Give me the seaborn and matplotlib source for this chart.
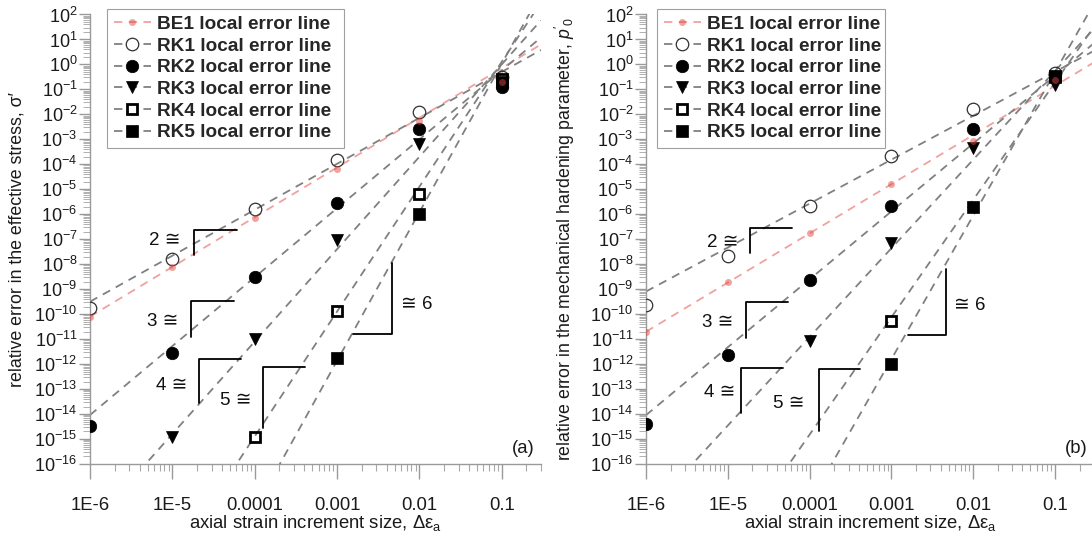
import numpy as np
import matplotlib
matplotlib.use("Agg")
import matplotlib.pyplot as plt
from matplotlib.lines import Line2D
from matplotlib.ticker import FixedLocator, FixedFormatter, LogLocator, NullFormatter
import seaborn as sns

sns.set_style("white")
plt.rcParams["font.family"] = ["Liberation Sans", "DejaVu Sans"]
plt.rcParams["mathtext.fontset"] = "custom"
plt.rcParams["mathtext.rm"] = "Liberation Sans"
plt.rcParams["mathtext.it"] = "Liberation Sans:italic"
plt.rcParams["mathtext.bf"] = "Liberation Sans:bold"
plt.rcParams["mathtext.default"] = "regular"
plt.rcParams["lines.scale_dashes"] = False

# ---------------------------------------------------------------- data
step_sizes = [1e-6, 1e-5, 1e-4, 1e-3, 1e-2, 1e-1]
step_labels = ["1E-6", "1E-5", "0.0001", "0.001", "0.01", "0.1"]
methods = ["BE1", "RK1", "RK2", "RK3", "RK4", "RK5"]
nan = np.nan

# relative error in the effective stress
stress_be1 = [7.6e-11, 7.4e-9, 7.0e-7, 6.7e-5, 5.5e-3, 0.20]
stress_rk1 = [1.7e-10, 1.6e-8, 1.6e-6, 1.5e-4, 1.2e-2, 0.31]
stress_rk2 = [3.3e-15, 2.9e-12, 3.0e-9, 2.8e-6, 2.7e-3, 0.12]
stress_rk3 = [nan, 1.25e-15, 1.0e-11, 9.0e-8, 6.5e-4, 0.18]
stress_rk4 = [nan, nan, 1.15e-15, 1.4e-10, 6.6e-6, 0.25]
stress_rk5 = [nan, nan, nan, 1.7e-12, 1.0e-6, 0.20]
# local error lines: slope and value at a step size of 0.1
stress_line_slope = [1.99, 1.84, 2.76, 3.70, 5.00, 5.95]
stress_line_at_01 = [0.71, 0.50, 0.575, 1.0, 1.26, 1.07]

# relative error in the mechanical hardening parameter
hard_be1 = [2.0e-11, 1.9e-9, 1.8e-7, 1.7e-5, 8.5e-4, 0.24]
hard_rk1 = [2.3e-10, 2.2e-8, 2.2e-6, 2.2e-4, 1.7e-2, 0.45]
hard_rk2 = [3.9e-15, 2.3e-12, 2.4e-9, 2.2e-6, 2.6e-3, 0.30]
hard_rk3 = [nan, nan, 8.5e-12, 7.0e-8, 4.6e-4, 0.15]
hard_rk4 = [nan, nan, nan, 5.4e-11, nan, 0.35]
hard_rk5 = [nan, nan, nan, 1.0e-12, 1.9e-6, 0.30]
hard_line_slope = [1.97, 1.76, 2.72, 3.55, 4.70, 5.75]
hard_line_at_01 = [0.14, 0.51, 0.36, 0.55, 0.19, 0.50]

order_labels = ["2 \u2245", "3 \u2245", "4 \u2245", "5 \u2245", "\u2245 6"]

# ---------------------------------------------------------------- styles
GRAY = "#808080"
PINK = "#e0463f"
styles = {
    "BE1": dict(marker="o", ms=5.0, mfc=PINK, mec="none", mew=0, line=PINK, alpha=0.5),
    "RK1": dict(marker="o", ms=9.0, mfc="none", mec="#303030", mew=0.9, line=GRAY, alpha=1),
    "RK2": dict(marker="o", ms=9.0, mfc="black", mec="black", mew=0.5, line=GRAY, alpha=1),
    "RK3": dict(marker="v", ms=8.5, mfc="black", mec="black", mew=0.5, line=GRAY, alpha=1),
    "RK4": dict(marker="s", ms=7.6, mfc="none", mec="black", mew=2.0, line=GRAY, alpha=1),
    "RK5": dict(marker="s", ms=8.4, mfc="black", mec="black", mew=0.5, line=GRAY, alpha=1),
}
DASH = (0, (6.0, 4.6))

# slope brackets in log10 coordinates:
# (x of vertical leg, x of other end, y low, y high, text x, text y, text align, corner)
stress_brackets = [
    (-4.74, -4.22, -7.62, -6.62, -4.90, -7.07, "right", "top"),
    (-4.77, -4.25, -10.93, -9.48, -4.93, -10.31, "right", "top"),
    (-4.67, -4.17, -13.55, -11.79, -4.82, -12.84, "right", "top"),
    (-3.90, -3.39, -14.55, -12.13, -4.04, -13.46, "right", "top"),
    (-2.33, -2.80, -10.79, -7.95, -2.22, -9.62, "left", "bottom"),
]
hard_brackets = [
    (-4.73, -4.22, -7.55, -6.53, -4.87, -7.13, "right", "top"),
    (-4.78, -4.27, -10.97, -9.51, -4.93, -10.32, "right", "top"),
    (-4.84, -4.33, -13.94, -12.16, -4.91, -13.14, "right", "top"),
    (-3.89, -3.38, -14.68, -12.20, -4.06, -13.56, "right", "top"),
    (-2.33, -2.80, -10.83, -8.18, -2.23, -9.65, "left", "bottom"),
]

XLIM = (1e-6, 0.3)
YLIM = (1e-16, 1e2)
XTICK_FS = 13.3
YTICK_FS = 13
LABEL_FS = 12.8
INK = "#1a1a1a"


def draw_panel(ax, series, slopes, at01, brackets, ylabel, tag, legend_box):
    ax.set_xscale("log")
    ax.set_yscale("log")
    x_ends = np.array(XLIM)
    # local error lines
    for m, p, c in zip(methods, slopes, at01):
        st = styles[m]
        y_ends = c * (x_ends / 0.1) ** p
        sns.lineplot(x=x_ends, y=y_ends, ax=ax, color=st["line"], alpha=st["alpha"],
                     linewidth=1.3, linestyle=DASH, zorder=2, legend=False)
    # computed errors
    for m, vals in zip(methods, series):
        st = styles[m]
        z = 5 if m == "BE1" else 3
        sns.lineplot(x=step_sizes, y=vals, ax=ax, linestyle="", marker=st["marker"],
                     markersize=st["ms"], markerfacecolor=st["mfc"],
                     markeredgecolor=st["mec"], markeredgewidth=st["mew"],
                     alpha=st["alpha"], zorder=z, legend=False, estimator=None)
    # slope brackets
    for (xv, xe, ylo, yhi, tx, ty, ha, corner), lab in zip(brackets, order_labels):
        if corner == "top":
            xs, ys = [xv, xv, xe], [ylo, yhi, yhi]
        else:
            xs, ys = [xv, xv, xe], [yhi, ylo, ylo]
        ax.plot(10.0 ** np.array(xs), 10.0 ** np.array(ys), color="black", lw=1.3, zorder=4)
        ax.text(10.0 ** tx, 10.0 ** ty, lab, ha=ha, va="center", fontsize=13.5,
                color="#111111", family=["Liberation Sans", "DejaVu Sans"])

    ax.set_xlim(*XLIM)
    ax.set_ylim(*YLIM)
    ax.xaxis.set_major_locator(FixedLocator(step_sizes))
    ax.xaxis.set_major_formatter(FixedFormatter(step_labels))
    ax.xaxis.set_minor_locator(LogLocator(base=10, subs=np.arange(2, 10), numticks=40))
    ax.xaxis.set_minor_formatter(NullFormatter())
    exps = np.arange(-16, 3)
    ax.yaxis.set_major_locator(FixedLocator(10.0 ** exps))
    ax.yaxis.set_major_formatter(FixedFormatter([f"$10^{{{e}}}$" for e in exps]))
    ax.yaxis.set_minor_locator(LogLocator(base=10, subs=np.arange(2, 10), numticks=60))
    ax.yaxis.set_minor_formatter(NullFormatter())

    for s in ["top", "right"]:
        ax.spines[s].set_visible(False)
    for s in ["left", "bottom"]:
        ax.spines[s].set_color("#9a9a9a")
        ax.spines[s].set_linewidth(1.0)
    ax.tick_params(which="both", bottom=True, left=True, top=False, right=False)
    ax.tick_params(axis="x", which="major", direction="out", length=11, width=1,
                   color="#9a9a9a", labelsize=XTICK_FS, pad=12.5, labelcolor=INK)
    ax.tick_params(axis="x", which="minor", direction="out", length=5, width=0.8, color="#a8a8a8")
    ax.tick_params(axis="y", which="major", direction="out", length=8, width=1,
                   color="#9a9a9a", labelsize=YTICK_FS, pad=1, labelcolor=INK)
    ax.tick_params(axis="y", which="minor", direction="out", length=5, width=0.7, color="#b0b0b0")

    ax.set_xlabel("axial strain increment size, \u0394\u03b5$_a$", fontsize=LABEL_FS + 0.5, color=INK)
    ax.xaxis.set_label_coords(0.5, -0.11)
    ax.set_ylabel(ylabel, fontsize=LABEL_FS, color=INK)
    ax.text(0.986, 0.034, tag, transform=ax.transAxes, ha="right", va="center",
            fontsize=XTICK_FS, color=INK)

    handles = []
    for m in methods:
        st = styles[m]
        face = "white" if st["mfc"] == "none" else st["mfc"]
        handles.append(Line2D([], [], color=st["line"], alpha=st["alpha"] if m == "BE1" else 1,
                              linestyle=DASH, linewidth=1.3, marker=st["marker"],
                              markersize=st["ms"], markerfacecolor=face,
                              markeredgecolor=st["mec"], markeredgewidth=st["mew"]))
    leg = ax.legend(handles, [f"{m} local error line" for m in methods],
                    loc="upper left", bbox_to_anchor=legend_box, mode="expand",
                    borderaxespad=0,
                    prop=dict(family="Liberation Sans", weight="bold", size=13.7),
                    frameon=True, fancybox=False, edgecolor="#a0a0a0", framealpha=1,
                    handlelength=1.95, handletextpad=0.3, labelspacing=0.23,
                    borderpad=0.34)
    leg.get_frame().set_linewidth(0.8)
    leg.set_zorder(10)


fig = plt.figure(figsize=(10.92, 5.33), dpi=100)
ax_a = fig.add_axes([0.0824, 0.1295, 0.4130, 0.8433])
ax_b = fig.add_axes([0.5916, 0.1295, 0.4103, 0.8433])

draw_panel(ax_a, [stress_be1, stress_rk1, stress_rk2, stress_rk3, stress_rk4, stress_rk5],
           stress_line_slope, stress_line_at_01, stress_brackets,
           "relative error in the effective stress, \u03c3\u2032", "(a)",
           (0.0386, 0.712, 0.5255, 0.3))
ax_a.yaxis.set_label_coords(-0.142, 0.5)

draw_panel(ax_b, [hard_be1, hard_rk1, hard_rk2, hard_rk3, hard_rk4, hard_rk5],
           hard_line_slope, hard_line_at_01, hard_brackets,
           "relative error in the mechanical hardening parameter, $\\mathit{p'_0}$", "(b)",
           (0.0254, 0.712, 0.509, 0.3))
ax_b.yaxis.set_label_coords(-0.155, 0.5)

fig.savefig("out.png", dpi=100)
